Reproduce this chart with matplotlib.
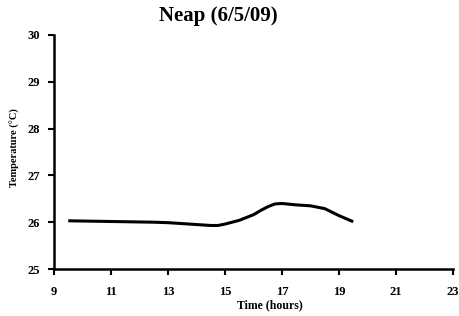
import matplotlib
matplotlib.use("Agg")
import matplotlib.pyplot as plt

time_hours = [9.5, 10.5, 11.5, 12.5, 13.0, 13.5, 14.0, 14.5, 14.75, 15.0, 15.5, 16.0, 16.25, 16.5, 16.75, 17.0, 17.5, 18.0, 18.5, 19.0, 19.5]
temperature = [26.03, 26.02, 26.01, 26.0, 25.99, 25.97, 25.95, 25.93, 25.93, 25.96, 26.04, 26.16, 26.25, 26.33, 26.39, 26.4, 26.37, 26.35, 26.29, 26.14, 26.01]

xticks = [9, 11, 13, 15, 17, 19, 21, 23]
yticks = [25, 26, 27, 28, 29, 30]

plt.rcParams['font.family'] = ['Liberation Serif', 'DejaVu Serif']
plt.rcParams['font.weight'] = 'bold'

fig = plt.figure(figsize=(4.59, 3.16), dpi=100)
ax = fig.add_axes([54/459, 1 - 269/316, (453-54)/459, (269-35)/316])
ax.plot(time_hours, temperature, color='black', linewidth=2.2, solid_capstyle='butt')
ax.set_xlim(9, 23)
ax.set_ylim(25, 30)
ax.set_xticks(xticks)
ax.set_yticks(yticks)
ax.tick_params(direction='out', length=4, width=1.5, labelsize=9, pad=6)
ax.tick_params(axis='x', pad=8)
for lab in ax.get_xticklabels() + ax.get_yticklabels():
    lab.set_fontweight('bold')
for s in ['top', 'right']:
    ax.spines[s].set_visible(False)
for s in ['left', 'bottom']:
    ax.spines[s].set_linewidth(1.8)
ax.set_xlabel('Time (hours)', fontsize=8.5, fontweight='bold')
ax.xaxis.set_label_coords((270-54)/(453-54), -(305-269)/(269-35))
ax.xaxis.label.set_va('center')
ax.set_ylabel('Temperature (°C)', fontsize=7.5, fontweight='bold')
ax.yaxis.set_label_coords(-(54-15)/(453-54), (269-148)/(269-35))
ax.yaxis.label.set_va('center')
fig.text(218/459, 1 - 16/316, 'Neap (6/5/09)', ha='center', va='center', fontsize=15, fontweight='bold')
fig.savefig('out.png', dpi=100)
